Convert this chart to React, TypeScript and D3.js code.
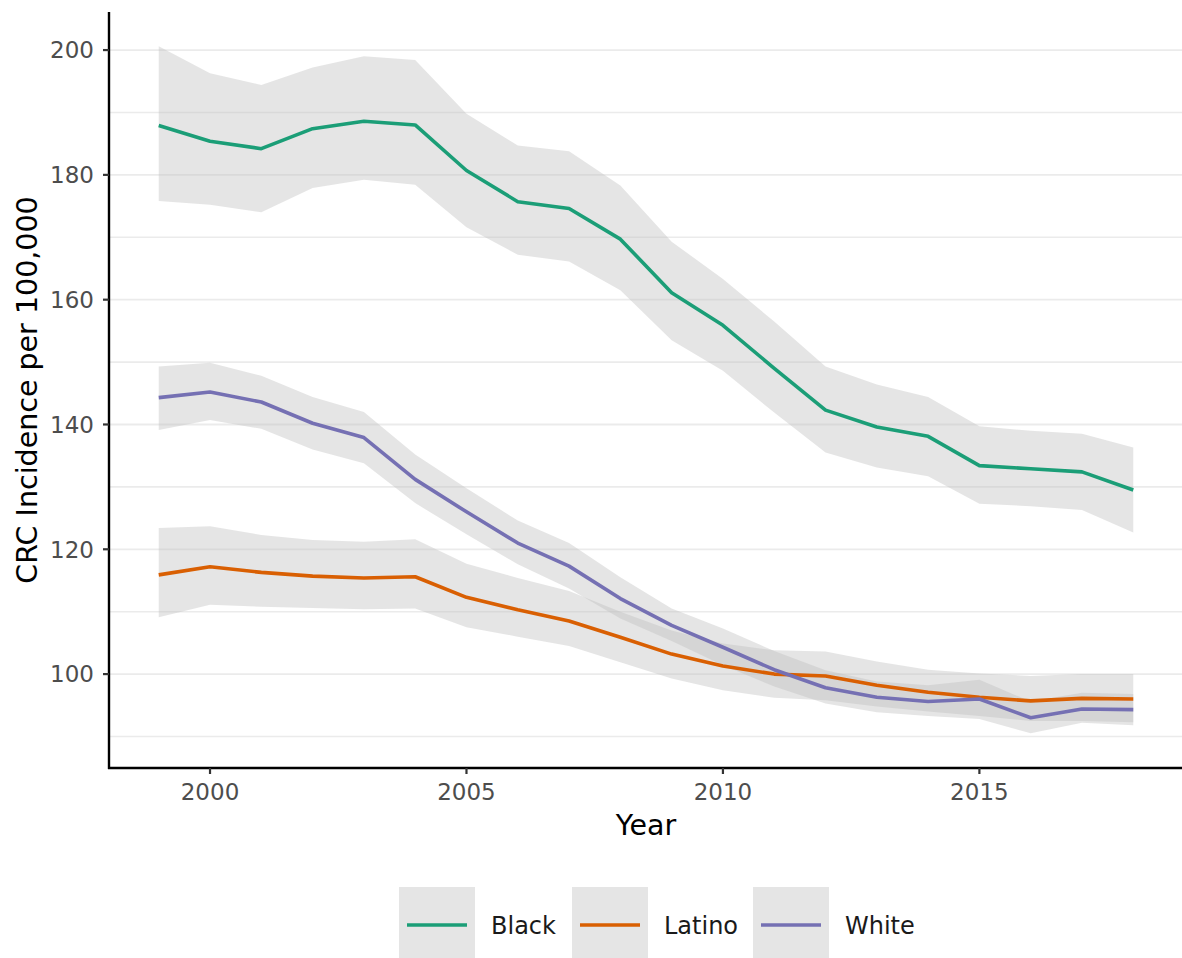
import React from "react";
import * as d3 from "d3";

const years = [1999, 2000, 2001, 2002, 2003, 2004, 2005, 2006, 2007, 2008, 2009, 2010, 2011, 2012, 2013, 2014, 2015, 2016, 2017, 2018];
const groups = ["Black", "Latino", "White"];
const colors = ["#1B9E77", "#D95F02", "#7570B3"];

const blackRate = [187.9, 185.4, 184.2, 187.4, 188.6, 188.0, 180.7, 175.7, 174.6, 169.7, 161.1, 155.9, 149.0, 142.3, 139.6, 138.1, 133.4, 132.9, 132.4, 129.5];
const blackUpper = [200.6, 196.3, 194.4, 197.2, 199.0, 198.4, 189.8, 184.7, 183.8, 178.3, 169.3, 163.3, 156.5, 149.3, 146.4, 144.4, 139.7, 139.0, 138.5, 136.3];
const blackLower = [175.8, 175.2, 174.0, 177.9, 179.2, 178.4, 171.6, 167.2, 166.1, 161.5, 153.5, 148.6, 141.9, 135.5, 133.1, 131.7, 127.3, 126.9, 126.3, 122.7];

const latinoRate = [115.9, 117.2, 116.3, 115.7, 115.4, 115.6, 112.3, 110.3, 108.5, 105.9, 103.2, 101.3, 100.0, 99.7, 98.2, 97.1, 96.3, 95.7, 96.1, 96.0];
const latinoUpper = [123.4, 123.7, 122.3, 121.5, 121.2, 121.6, 117.7, 115.4, 113.3, 110.0, 107.0, 104.9, 103.8, 103.6, 102.0, 100.7, 100.1, 99.7, 100.0, 100.0];
const latinoLower = [109.1, 111.1, 110.8, 110.6, 110.4, 110.5, 107.5, 106.0, 104.5, 101.9, 99.3, 97.4, 96.2, 95.8, 94.8, 94.0, 93.3, 92.5, 92.5, 92.3];

const whiteRate = [144.3, 145.2, 143.6, 140.2, 137.9, 131.2, 126.0, 121.0, 117.3, 112.1, 107.8, 104.3, 100.7, 97.8, 96.3, 95.6, 96.0, 93.0, 94.4, 94.3];
const whiteUpper = [149.3, 149.9, 147.8, 144.4, 142.0, 135.2, 129.8, 124.6, 121.0, 115.5, 110.5, 107.3, 103.7, 100.6, 98.8, 98.2, 99.1, 95.6, 97.0, 96.8];
const whiteLower = [139.1, 140.7, 139.3, 136.0, 133.8, 127.4, 122.4, 117.6, 113.7, 108.9, 105.3, 101.4, 98.0, 95.3, 93.9, 93.3, 92.8, 90.5, 92.2, 91.8];

const rates = [blackRate, latinoRate, whiteRate];
const uppers = [blackUpper, latinoUpper, whiteUpper];
const lowers = [blackLower, latinoLower, whiteLower];

const xTicks = [2000, 2005, 2010, 2015];
const yTicks = [100, 120, 140, 160, 180, 200];
const yMinor = [90, 110, 130, 150, 170, 190];

const W = 1182;
const H = 958;
const FONT = "'DejaVu Sans', sans-serif";

export default function App() {
  const left = 110, right = 1182, top = 12, bottom = 768;
  const x = d3.scaleLinear().domain([1998.05, 2018.95]).range([left, right]);
  const y = d3.scaleLinear().domain([84.95, 206.1]).range([bottom, top]);

  const line = d3.line<number>().x((_, i) => x(years[i])).y((d) => y(d));
  const area = (up: number[], lo: number[]) =>
    d3.area<number>()
      .x((_, i) => x(years[i]))
      .y0((_, i) => y(lo[i]))
      .y1((_, i) => y(up[i]))(years) as string;

  const legendBoxX = [399, 572, 753];
  const boxW = 76;

  return (
    <svg width={W} height={H} style={{ position: "absolute", left: 0, top: 0, background: "#fff" }} fontFamily={FONT}>
      <rect x={0} y={0} width={W} height={H} fill="#ffffff" />
      {/* grid */}
      {yMinor.map((v) => (
        <line key={"mn" + v} x1={left} x2={right} y1={y(v)} y2={y(v)} stroke="#ebebeb" strokeWidth={1.6} />
      ))}
      {yTicks.map((v) => (
        <line key={"mj" + v} x1={left} x2={right} y1={y(v)} y2={y(v)} stroke="#ebebeb" strokeWidth={1.8} />
      ))}
      {/* ribbons */}
      {groups.map((g, k) => (
        <path key={"rib" + g} d={area(uppers[k], lowers[k])} fill="#bdbdbd" fillOpacity={0.4} />
      ))}
      {/* lines */}
      {groups.map((g, k) => (
        <path key={"ln" + g} d={line(rates[k]) as string} fill="none" stroke={colors[k]} strokeWidth={3.6} strokeLinejoin="round" />
      ))}
      {/* axes */}
      <line x1={109} x2={109} y1={top} y2={bottom + 1} stroke="#000" strokeWidth={2.4} />
      <line x1={108} x2={right} y1={bottom} y2={bottom} stroke="#000" strokeWidth={2.4} />
      {yTicks.map((v) => (
        <g key={"yt" + v}>
          <line x1={103} x2={109} y1={y(v)} y2={y(v)} stroke="#333" strokeWidth={2.2} />
          <text x={94} y={y(v)} dy="0.36em" textAnchor="end" fontSize={23} fill="#4d4d4d">{v}</text>
        </g>
      ))}
      {xTicks.map((v) => (
        <g key={"xt" + v}>
          <line x1={x(v)} x2={x(v)} y1={bottom} y2={bottom + 6} stroke="#333" strokeWidth={2.2} />
          <text x={x(v)} y={800} textAnchor="middle" fontSize={23} fill="#4d4d4d">{v}</text>
        </g>
      ))}
      <text x={(left + right) / 2} y={835} textAnchor="middle" fontSize={28.5} fill="#000">Year</text>
      <text transform={`translate(37, ${(top + bottom) / 2}) rotate(-90)`} textAnchor="middle" fontSize={28.5} fill="#000">CRC Incidence per 100,000</text>
      {/* legend */}
      {groups.map((g, k) => (
        <g key={"lg" + g}>
          <rect x={legendBoxX[k]} y={887} width={boxW} height={H - 887} fill="#e5e5e5" />
          <line x1={legendBoxX[k] + 8} x2={legendBoxX[k] + boxW - 8} y1={925} y2={925} stroke={colors[k]} strokeWidth={3.6} />
          <text x={legendBoxX[k] + boxW + 16} y={934} fontSize={24} fill="#1a1a1a">{g}</text>
        </g>
      ))}
    </svg>
  );
}
